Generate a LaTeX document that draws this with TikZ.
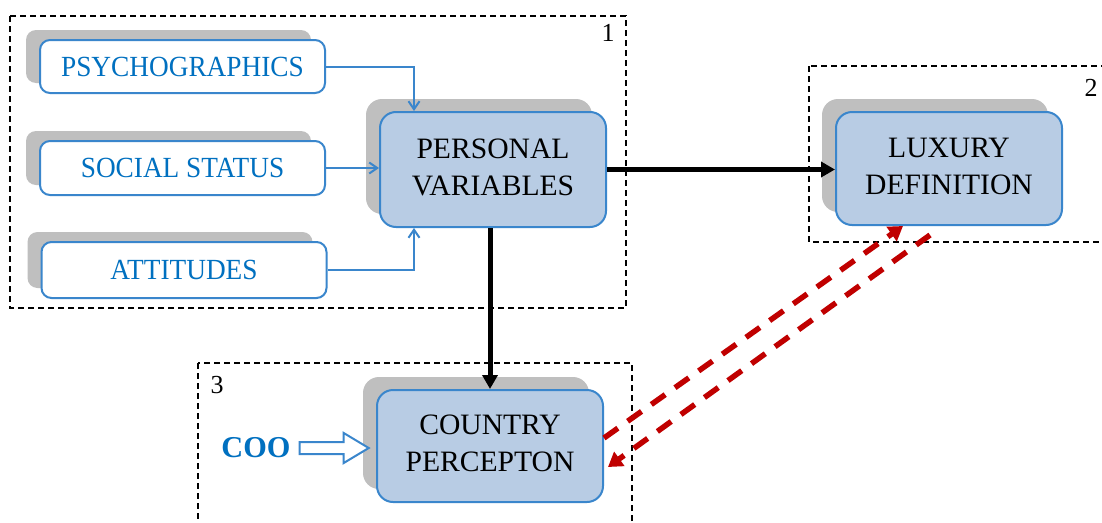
\documentclass[tikz,border=0pt]{standalone}
\usepackage{fontspec}
\setmainfont{Liberation Serif}
\usetikzlibrary{arrows.meta,shadows,calc}
\definecolor{bborder}{RGB}{58,134,204}
\definecolor{bfill}{RGB}{184,204,228}
\definecolor{btext}{RGB}{0,112,192}
\definecolor{shad}{RGB}{191,191,191}
\definecolor{dred}{RGB}{192,0,0}
\newcommand\twolines[2]{\raisebox{6pt}{\begin{tabular}{@{}c@{}}#1\\#2\end{tabular}}}
\newcommand\tallish[1]{\scalebox{1}[1.07]{#1}}
\tikzset{
  smallbox/.style={draw=bborder, line width=2pt, fill=white, rounded corners=10pt,
    minimum width=285pt, inner sep=0pt, text=btext,
    font=\fontsize{27.3}{32}\selectfont,
    general shadow={fill=shad, shadow xshift=-14pt, shadow yshift=10pt}},
  bigbox/.style={draw=bborder, line width=2pt, fill=bfill, rounded corners=16pt,
    minimum width=226pt, inner sep=0pt,
    font=\fontsize{29.6}{37}\selectfont,
    general shadow={fill=shad, shadow xshift=-14pt, shadow yshift=13pt}},
  groupbox/.style={draw=black, line width=1.4pt, dash pattern=on 6pt off 4pt},
  grouplabel/.style={font=\fontsize{26}{30}\selectfont, inner sep=0pt},
  bluearrow/.style={draw=bborder, line width=2pt, -{Straight Barb[length=8pt,width=11pt,line width=2pt]}},
  blackarrow/.style={draw=black, line width=5pt, -{Triangle[length=14pt,width=15pt]}},
  redarrow/.style={draw=dred, line width=5.5pt, dash pattern=on 17pt off 12pt, -{Triangle[length=14pt,width=17pt]}},
  hollowarrow/.style={draw=bborder, line width=2pt, fill=white, line join=miter}
}
\begin{document}
\begin{tikzpicture}[x=1pt,y=-1pt]
\clip (0,0) rectangle (1102,522);
\fill[white] (0,0) rectangle (1102,522);
% group boxes
\draw[groupbox] (10,16) rectangle (626,308);
\draw[groupbox] (809,66) rectangle (1112,242);
\draw[groupbox] (198,363) rectangle (632,540);
\node[grouplabel] (l1) at (608,33) {1};
\node[grouplabel] (l2) at (1091,88) {2};
\node[grouplabel] (l3) at (217,385) {3};
% nodes
\node[smallbox, minimum height=53pt] (psy) at (182.5,66.5) {\tallish{PSYCHOGRAPHICS}};
\node[smallbox, minimum height=54pt] (soc) at (182.5,168) {\tallish{SOCIAL STATUS}};
\node[smallbox, minimum height=56pt] (att) at (184,270) {\tallish{ATTITUDES}};
\node[bigbox, minimum height=115pt] (pv) at (493,169.5) {\twolines{PERSONAL}{VARIABLES}};
\node[bigbox, minimum height=113pt] (lux) at (949,168.5) {\twolines{LUXURY}{DEFINITION}};
\node[bigbox, minimum height=112pt] (cp) at (490,446) {\twolines{COUNTRY}{PERCEPTON}};
\node[text=btext, font=\bfseries\fontsize{30.3}{34}\selectfont, inner sep=0pt] (coo) at (256,448) {COO};
% hollow arrow COO -> country
\coordinate (ha) at ($(coo.east)+(9,0)$);
\draw[hollowarrow] ($(ha)+(0,-6)$) -- ++(44,0) -- ++(0,-9) -- ($(ha)+(69,0)$)
  -- ($(ha)+(44,15)$) -- ++(0,-9) -- ($(ha)+(0,6)$) -- cycle;
% blue connectors
\draw[bluearrow] (psy.east) -| ($(pv.north west)+(35,0)$);
\draw[bluearrow] (soc.east) -- (soc.east -| pv.west);
\draw[bluearrow] (att.east) -| ($(pv.south west)+(35,0)$);
% black connectors
\draw[blackarrow] (pv.east) -- (pv.east -| lux.west);
\draw[blackarrow] (pv.south -| cp.north) -- (cp.north);
% red dashed connectors
\draw[redarrow] ($(cp.east)+(0,-8)$) -- ($(lux.south)+(-46,0)$);
\draw[redarrow] ($(lux.south)+(-19,9)$) -- ($(cp.east)+(4,21)$);
\end{tikzpicture}
\end{document}
